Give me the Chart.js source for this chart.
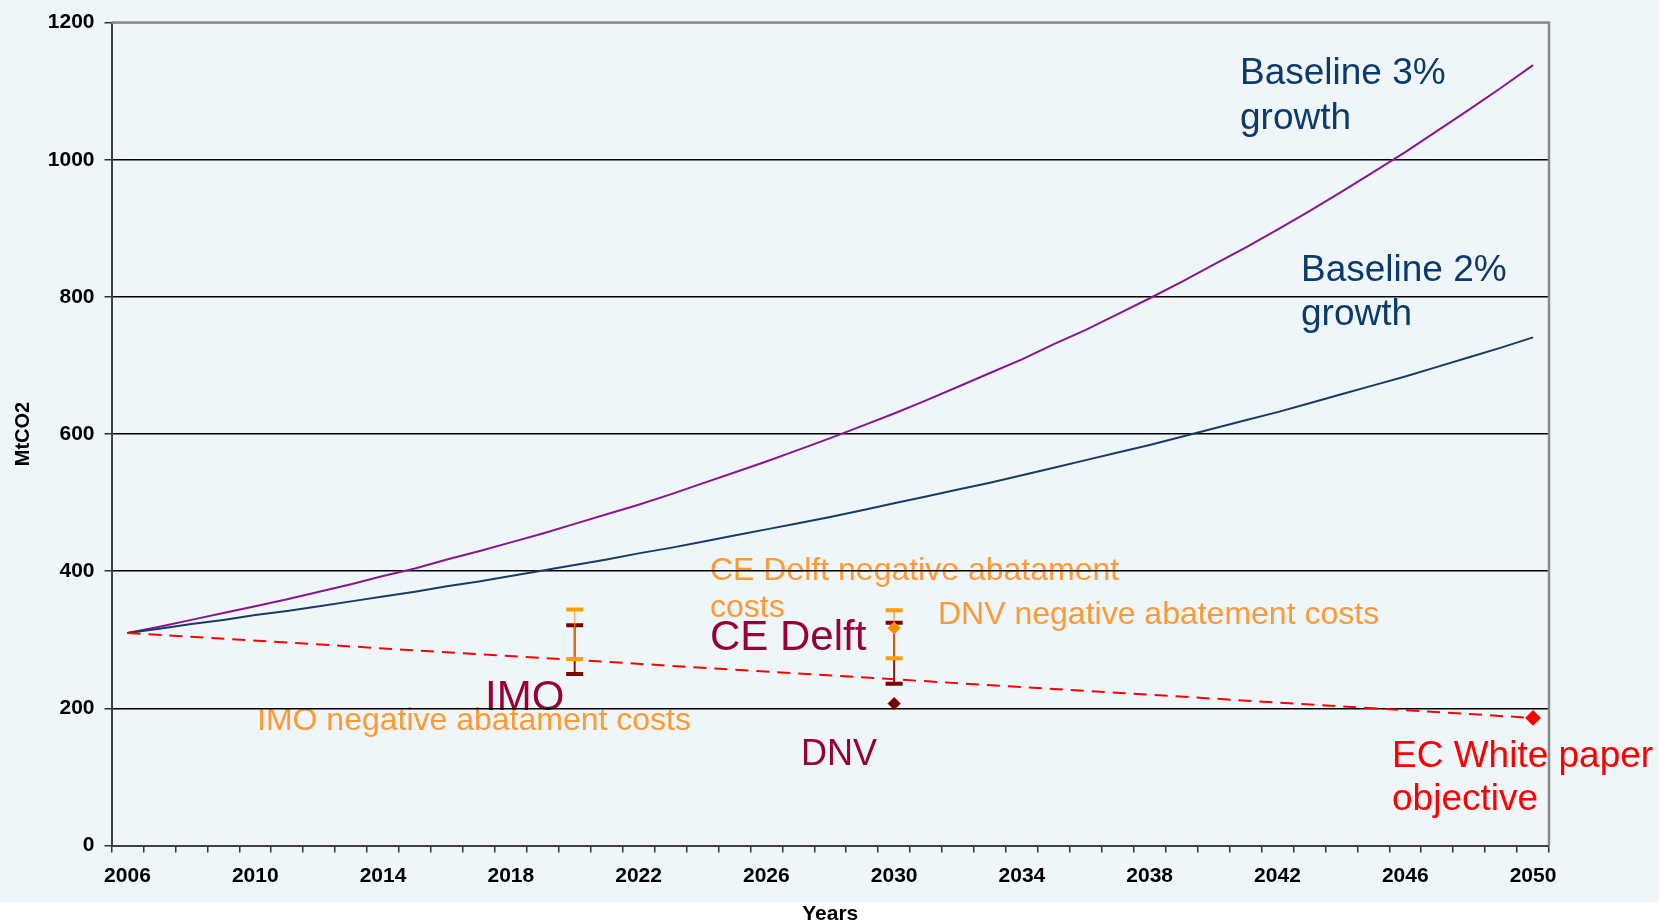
<!DOCTYPE html>
<html>
<head>
<meta charset="utf-8">
<script src="https://cdn.jsdelivr.net/npm/chart.js@4.4.0/dist/chart.umd.min.js"></script>
<style>
  html, body { margin: 0; padding: 0; background: #ffffff; }
  #wrap { width: 1659px; height: 923px; }
</style>
</head>
<body>
<div id="wrap"><canvas id="co2Chart" width="1659" height="923"></canvas></div>
<script>
// one category per year, labels only every 4 years
var years = ['2006', '2007', '2008', '2009', '2010', '2011', '2012', '2013', '2014', '2015',
             '2016', '2017', '2018', '2019', '2020', '2021', '2022', '2023', '2024', '2025',
             '2026', '2027', '2028', '2029', '2030', '2031', '2032', '2033', '2034', '2035',
             '2036', '2037', '2038', '2039', '2040', '2041', '2042', '2043', '2044', '2045',
             '2046', '2047', '2048', '2049', '2050'];
var yearLabels = ['2006', '2010', '2014', '2018', '2022', '2026', '2030', '2034', '2038', '2042', '2046', '2050'];
var yTicks = [0, 200, 400, 600, 800, 1000, 1200];

// MtCO2 per year
var baseline3 = [310, 319, 329, 339, 349, 359, 370, 381, 393, 404, 417, 429, 442, 455, 469, 483,
                 497, 512, 528, 544, 560, 577, 594, 612, 630, 649, 669, 689, 709, 731, 752, 775,
                 798, 822, 847, 872, 898, 925, 953, 982, 1011, 1042, 1073, 1105, 1138];
var baseline2 = [310, 316, 323, 329, 336, 342, 349, 356, 363, 370, 378, 385, 393, 401, 409, 417,
                 426, 434, 443, 452, 461, 470, 479, 489, 499, 509, 519, 529, 540, 551, 562, 573,
                 584, 596, 608, 620, 632, 645, 658, 671, 684, 698, 712, 726, 741];

// EC white paper path (start and target)
var ecYears = ['2006', '2050'];
var ecValues = [310, 186];

// reduction estimates: [low, high]
var imoRange = [250, 321];
var imoNegRange = [272, 344];
var ceDelftRange = [236, 325];
var ceDelftNegRange = [273, 343];
var dnvValue = [207];
var dnvNegValue = [317];

var FONT = '"Liberation Sans", Arial, sans-serif';
var ORANGE_TXT = '#ff9933';
var DARKRED_TXT = '#990033';
var NAVY_TXT = '#0c3a6c';

function pointsAt(year, values) {
    return values.map(function (v) { return { x: year, y: v }; });
}

function errorBar(year, range, lineColor, capColor, width) {
    return {
        data: pointsAt(year, range),
        borderColor: lineColor,
        borderWidth: width,
        pointStyle: 'line',
        pointRadius: 8.5,
        pointBorderWidth: 4,
        pointBorderColor: capColor,
        pointHoverRadius: 8.5
    };
}

function marker(year, values, color) {
    return {
        data: pointsAt(year, values),
        showLine: false,
        pointStyle: 'rectRot',
        pointRadius: 6,
        pointBorderWidth: 1,
        pointBackgroundColor: color,
        pointBorderColor: color
    };
}

// free text placed on the chart
var notes = [
    { text: 'Baseline 3%', x: 1240, y: 84, size: 37, color: NAVY_TXT },
    { text: 'growth', x: 1240, y: 129, size: 37, color: NAVY_TXT },
    { text: 'Baseline 2%', x: 1301, y: 281, size: 37, color: NAVY_TXT },
    { text: 'growth', x: 1301, y: 325, size: 37, color: NAVY_TXT },
    { text: 'CE Delft negative abatament', x: 710, y: 580, size: 32, color: ORANGE_TXT },
    { text: 'costs', x: 710, y: 617, size: 32, color: ORANGE_TXT },
    { text: 'DNV negative abatement costs', x: 938, y: 624, size: 32, color: ORANGE_TXT },
    { text: 'CE Delft', x: 710, y: 650, size: 42, color: DARKRED_TXT },
    { text: 'IMO', x: 485, y: 710, size: 42, color: DARKRED_TXT },
    { text: 'IMO negative abatament costs', x: 257, y: 730, size: 32, color: ORANGE_TXT },
    { text: 'DNV', x: 801, y: 765, size: 36, color: DARKRED_TXT },
    { text: 'EC White paper', x: 1392, y: 767, size: 37, color: '#ff0000' },
    { text: 'objective', x: 1392, y: 810, size: 37, color: '#ff0000' }
];

var backdrop = {
    id: 'backdrop',
    beforeDraw: function (chart) {
        var c = chart.ctx;
        c.save();
        c.fillStyle = '#ffffff';
        c.fillRect(0, 0, chart.width, chart.height);
        c.fillStyle = '#eef6f9';
        c.fillRect(0, 0, chart.width, 902);
        c.textBaseline = 'alphabetic';
        c.textAlign = 'left';
        notes.forEach(function (n) {
            c.font = n.size + 'px ' + FONT;
            c.fillStyle = n.color;
            c.fillText(n.text, n.x, n.y);
        });
        c.restore();
    },
    beforeDatasetsDraw: function (chart) {
        // grey frame on top and right like the original plot area
        var a = chart.chartArea, c = chart.ctx;
        c.save();
        c.strokeStyle = '#8a8a8a';
        c.lineWidth = 2.5;
        c.beginPath();
        c.moveTo(a.left, a.top);
        c.lineTo(a.right, a.top);
        c.lineTo(a.right, a.bottom);
        c.stroke();
        c.restore();
    }
};

var ctx = document.getElementById('co2Chart').getContext('2d');
var co2Chart = new Chart(ctx, {
    type: 'line',
    data: {
        labels: years,
        datasets: [
            marker('2030', dnvNegValue, '#ff8c00'),
            marker('2030', dnvValue, '#7a0000'),
            errorBar('2020', imoNegRange, 'rgba(255,150,40,0.7)', '#ffa000', 1.5),
            errorBar('2030', ceDelftNegRange, 'rgba(255,130,30,0.75)', '#ffa000', 1.5),
            errorBar('2020', imoRange, '#8b1a00', '#800000', 2),
            errorBar('2030', ceDelftRange, '#8b1a00', '#800000', 2),
            {
                data: pointsAt(ecYears[0], [ecValues[0]]).concat(pointsAt(ecYears[1], [ecValues[1]])),
                borderColor: '#ff0000',
                borderWidth: 2,
                borderDash: [13, 8],
                pointStyle: 'rectRot',
                pointRadius: [0, 6.5],
                pointBackgroundColor: '#ff0000',
                pointBorderColor: '#ff0000'
            },
            { data: baseline2, borderColor: '#1b3a68', borderWidth: 2, pointRadius: 0 },
            { data: baseline3, borderColor: '#8b168b', borderWidth: 2, pointRadius: 0 }
        ]
    },
    options: {
        responsive: false,
        devicePixelRatio: 1,
        animation: false,
        layout: { padding: { left: 0, right: 110, top: 22, bottom: 0 } },
        plugins: {
            legend: { display: false },
            tooltip: { enabled: false }
        },
        scales: {
            x: {
                type: 'category',
                offset: true,
                afterFit: function (s) { s.height = 77.5; },
                grid: {
                    offset: true,
                    drawOnChartArea: false,
                    tickLength: 7,
                    color: '#333333',
                    lineWidth: 1.5
                },
                border: { color: '#404040', width: 2 },
                ticks: {
                    autoSkip: false,
                    maxRotation: 0,
                    padding: 11,
                    color: '#000000',
                    font: { family: FONT, size: 21, weight: 'bold' },
                    callback: function (value) {
                        var lab = this.getLabelForValue(value);
                        return yearLabels.indexOf(lab) >= 0 ? lab : '';
                    }
                },
                title: {
                    display: true,
                    text: 'Years',
                    color: '#000000',
                    padding: { top: 0, bottom: 0 },
                    font: { family: FONT, size: 21, weight: 'bold', lineHeight: 0.8 }
                }
            },
            y: {
                min: 0,
                max: 1200,
                afterFit: function (s) { s.width = 111.5; },
                afterBuildTicks: function (s) {
                    s.ticks = yTicks.map(function (v) { return { value: v }; });
                },
                grid: {
                    color: function (c) {
                        if (c.tick.value === 0) return 'rgba(0,0,0,0)';
                        if (c.tick.value === 1200) return '#8a8a8a';
                        return '#000000';
                    },
                    lineWidth: 1.5,
                    tickLength: 7,
                    tickColor: '#333333'
                },
                border: { color: '#404040', width: 2 },
                ticks: {
                    padding: 10,
                    color: '#000000',
                    font: { family: FONT, size: 21, weight: 'bold' },
                    callback: function (value) { return String(value); }
                },
                title: {
                    display: true,
                    text: 'MtCO2',
                    color: '#000000',
                    padding: { top: 13, bottom: 0 },
                    font: { family: FONT, size: 20, weight: 'bold', lineHeight: 1 }
                }
            }
        }
    },
    plugins: [backdrop]
});
</script>
</body>
</html>
